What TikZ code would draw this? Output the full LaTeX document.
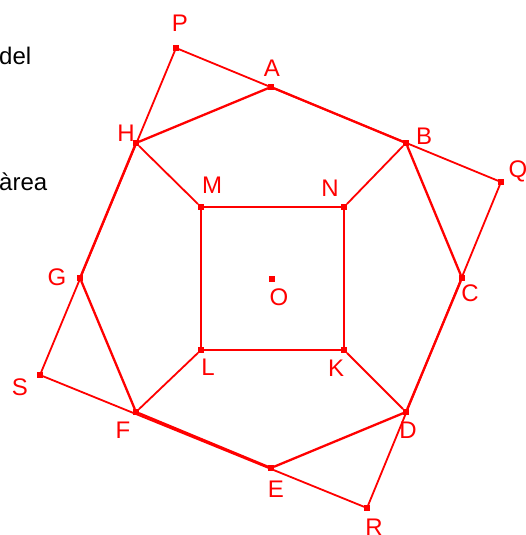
\documentclass[tikz,border=0pt]{standalone}
\usepackage{fontspec}
\setmainfont{Liberation Sans}
\usetikzlibrary{positioning}
\definecolor{cfig}{HTML}{FF0000}
\tikzset{
  pt/.style={rectangle, fill=cfig, inner sep=0pt, minimum size=5.5pt},
  lbl/.style={text=cfig, font=\fontsize{24}{28}\selectfont, inner sep=0pt},
  txt/.style={text=black, font=\fontsize{24}{28}\selectfont, inner sep=0pt, anchor=base west},
  seg/.style={draw=cfig, line width=1.8pt},
  oct/.style={draw=cfig, line width=2.3pt},
}
\begin{document}
\begin{tikzpicture}[x=1pt,y=-1pt]
\useasboundingbox (0,0) rectangle (525,535);
% ---------------- text cut at the left edge
\node[txt] (tdel) at (-1,65) {del};
\node[txt] (tarea) at (-1,190) {àrea};
% ---------------- points and their letters
\foreach \n/\x/\y/\lx/\ly in {P/176/48/180/23, A/271/87/272/68, B/406/143/424/136,
    Q/501/182/518/171, C/462/278/470/293, D/406/412/408/430, R/367/508/374/527,
    E/271/468/276/489, F/136/412/123/430, S/40/375/20/387, G/80/278/57/277,
    H/136/143/126/133, M/201/207/212/185, N/344/207/330/188, K/344/350/336/368,
    L/201/350/208/367, O/272/279/279/297} {
  \node[pt] (\n) at (\x,\y) {};
  \node[lbl] (l\n) at (\lx,\ly) {\n};
}
% ---------------- outer square
\foreach \a/\b in {P/Q, Q/R, R/S, S/P} {
  \draw[seg] (\a) -- (\b);
}
% ---------------- octagon
\foreach \a/\b in {A/B, B/C, C/D, D/E, E/F, F/G, G/H, H/A} {
  \draw[oct] (\a) -- (\b);
}
% ---------------- inner square and spokes
\foreach \a/\b in {M/N, N/K, K/L, L/M, H/M, B/N, D/K, F/L} {
  \draw[seg] (\a) -- (\b);
}
\end{tikzpicture}
\end{document}
